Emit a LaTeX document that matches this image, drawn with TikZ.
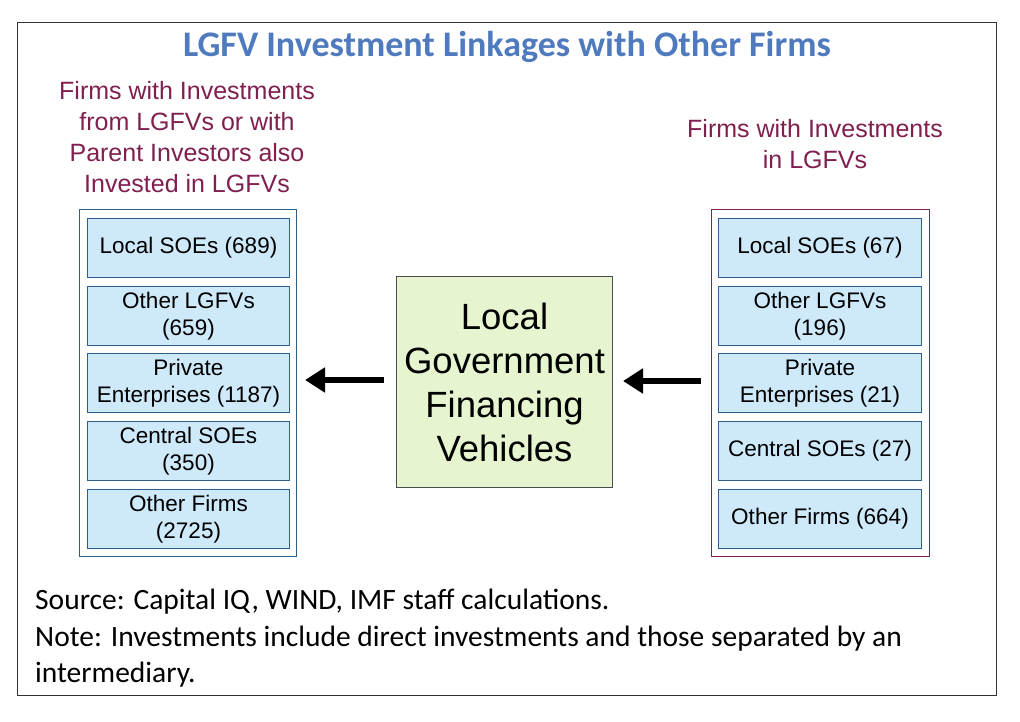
\documentclass[tikz,border=0pt]{standalone}
\usepackage{fontspec}
\usetikzlibrary{arrows.meta}
\setmainfont{Liberation Sans}
\newfontfamily\calfont{Carlito}
\definecolor{ttl}{HTML}{4F7BBE}
\definecolor{mar}{HTML}{80204F}
\definecolor{lb}{HTML}{CDE9FA}
\definecolor{bd}{HTML}{2C5F8A}
\definecolor{gr}{HTML}{E6F5D0}
\begin{document}
\begin{tikzpicture}[x=1pt,y=-1pt,
 item/.style={draw=bd,fill=lb,line width=1pt,minimum width=202pt,minimum height=59pt,align=center,font=\fontsize{22.5}{27}\selectfont,anchor=north west,inner sep=0pt},
 head/.style={text=mar,align=center,font=\fontsize{25}{31}\selectfont},
 arr/.style={line width=6pt,-{Triangle[length=20pt,width=24pt]}}]
\useasboundingbox (0,0) rectangle (1020,722);
\fill[white] (0,0) rectangle (1020,722);
\node[draw=black!80,line width=0.8pt,minimum width=979pt,minimum height=673pt,anchor=north west,inner sep=0pt] (frame) at (17,22) {};
\node[text=ttl,font=\calfont\bfseries\fontsize{36}{40}\selectfont] (title) at (507,47) {LGFV Investment Linkages with Other Firms};
\node[head] (lh) at (187,137) {Firms with Investments\\from LGFVs or with\\Parent Investors also\\Invested in LGFVs};
\node[head] (rh) at (815,144) {Firms with Investments\\in LGFVs};
\node[draw=bd,line width=1pt,minimum width=217pt,minimum height=347pt,anchor=north west,inner sep=0pt] (lc) at (79,209) {};
\node[draw=mar,line width=1pt,minimum width=218pt,minimum height=347pt,anchor=north west,inner sep=0pt] (rc) at (711,209) {};
\node[item] (l1) at (87,218) {Local SOEs (689)};
\node[item] (l2) at (87,286) {Other LGFVs\\(659)};
\node[item] (l3) at (87,353) {Private\\Enterprises (1187)};
\node[item] (l4) at (87,421) {Central SOEs\\(350)};
\node[item] (l5) at (87,489) {Other Firms\\(2725)};
\node[item,minimum width=203pt] (r1) at (718,218) {Local SOEs (67)};
\node[item,minimum width=203pt] (r2) at (718,286) {Other LGFVs\\(196)};
\node[item,minimum width=203pt] (r3) at (718,353) {Private\\Enterprises (21)};
\node[item,minimum width=203pt] (r4) at (718,421) {Central SOEs (27)};
\node[item,minimum width=203pt] (r5) at (718,489) {Other Firms (664)};
\node[draw=black!70,fill=gr,line width=1pt,minimum width=216pt,minimum height=211pt,anchor=north west,inner sep=0pt,align=center,font=\fontsize{36.5}{44}\selectfont] (c) at (396,276) {Local\\Government\\Financing\\Vehicles};
\coordinate (a1s) at (384,380); \coordinate (a1e) at (305,380);
\coordinate (a2s) at (701,381); \coordinate (a2e) at (623,381);
\draw[arr] (a1s) -- (a1e);
\draw[arr] (a2s) -- (a2e);
\node[anchor=north west,align=left,font=\calfont\fontsize{29.5}{36.5}\selectfont,inner sep=0pt] (note) at (35,589) {Source: Capital IQ, WIND, IMF staff calculations.\\Note: Investments include direct investments and those separated by an\\intermediary.};
\end{tikzpicture}
\end{document}
